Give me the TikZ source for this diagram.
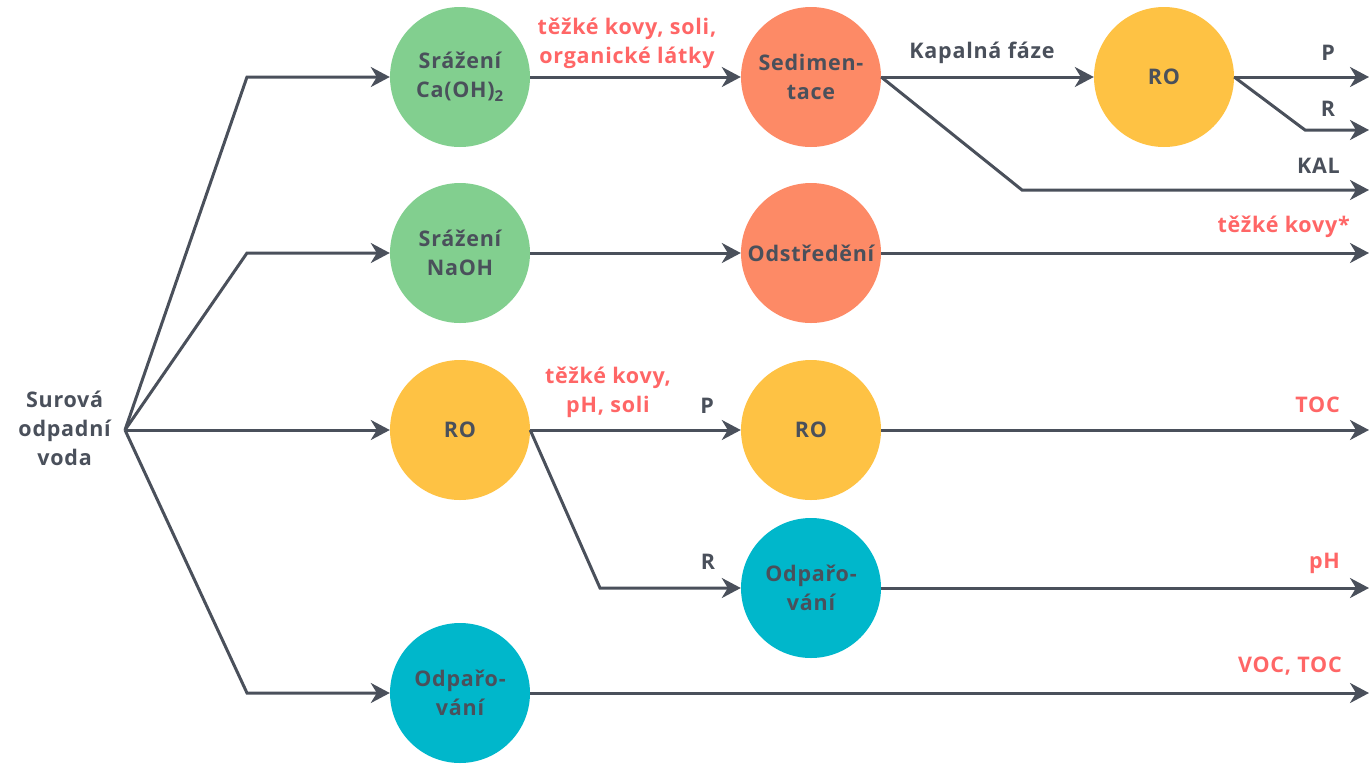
\documentclass[tikz,border=0pt]{standalone}
\usepackage{fontspec}
\setmainfont[LetterSpace=3.5]{Open Sans}
\usetikzlibrary{arrows.meta}
\definecolor{ink}{HTML}{4A505B}
\definecolor{hot}{HTML}{FF6666}
\definecolor{cgreen}{HTML}{82CF8F}
\definecolor{corange}{HTML}{FD8A66}
\definecolor{cyellow}{HTML}{FEC244}
\definecolor{ccyan}{HTML}{00B7CB}
\tikzset{
    every node/.style={font=\fontsize{21.5}{29}\selectfont\bfseries, text=ink, align=center, inner sep=0pt}
}
\tikzset{
    unit/.style={circle, minimum size=140pt},
    flow/.style={draw=ink, line width=3pt, -{Stealth[length=19pt,width=20pt,inset=6pt]}},
    note/.style={text=hot}
}

\begin{document}
\begin{tikzpicture}[x=1pt, y=-1pt]
    \useasboundingbox (0,0) rectangle (1369,764);

    \node (feed) [anchor=east] at (111,428) {Surová\\odpadní\\voda};
    \coordinate (src) at (125,430);

    \node (caoh) [unit, fill=cgreen] at (460,77) {Srážení\\Ca(OH)\textsubscript{2}};
    \node (naoh) [unit, fill=cgreen] at (460,253) {Srážení\\NaOH};
    \node (ro2) [unit, fill=cyellow] at (460,430) {RO};
    \node (evb) [unit, fill=ccyan] at (460,693) {Odpařo-\\vání};

    \node (sed) [unit, fill=corange] at (811,77) {Sedimen-\\tace};
    \node (cen) [unit, fill=corange] at (811,253) {Odstředění};
    \node (ro3) [unit, fill=cyellow] at (811,430) {RO};
    \node (evm) [unit, fill=ccyan] at (811,588) {Odpařo-\\vání};

    \node (ro1) [unit, fill=cyellow] at (1164,77) {RO};

    \coordinate (k1) at (247,77);
    \coordinate (k2) at (247,253);
    \coordinate (k4) at (247,693);
    \coordinate (k5) at (1022,190);
    \coordinate (k6) at (1305,130);
    \coordinate (k7) at (600,588);

    \coordinate (outP) at (1369,77);
    \coordinate (outR) at (1369,130);
    \coordinate (outKAL) at (1369,190);
    \coordinate (outcen) at (1369,253);
    \coordinate (outro) at (1369,430);
    \coordinate (outev) at (1369,588);
    \coordinate (outevb) at (1369,693);

    % inflow
    \draw [flow] (src) -- (k1) -- (caoh);
    \draw [flow] (src) -- (k2) -- (naoh);
    \draw [flow] (src) -- (ro2);
    \draw [flow] (src) -- (k4) -- (evb);

    % middle column
    \draw [flow] (caoh) -- (sed);
    \draw [flow] (naoh) -- (cen);
    \draw [flow] (ro2) -- (ro3);
    \draw [flow] (ro2.east) -- (k7) -- (evm);

    % outflow
    \draw [flow] (sed) -- (ro1);
    \draw [flow] (sed.east) -- (k5) -- (outKAL);
    \draw [flow] (ro1) -- (outP);
    \draw [flow] (ro1.east) -- (k6) -- (outR);
    \draw [flow] (cen) -- (outcen);
    \draw [flow] (ro3) -- (outro);
    \draw [flow] (evm) -- (outev);
    \draw [flow] (evb) -- (outevb);

    % labels
    \node (l1) [note] at (627,43) {těžké kovy, soli,\\organické látky};
    \node (l2) at (982,53) {Kapalná fáze};
    \node (l3) at (1328,53) {P};
    \node (l4) at (1328,109) {R};
    \node (l5) [anchor=east] at (1340,166) {KAL};
    \node (l6) [note, anchor=east] at (1350,227) {těžké kovy*};
    \node (l7) [note] at (608,392) {těžké kovy,\\pH, soli};
    \node (l8) at (707,406) {P};
    \node (l9) at (708,562) {R};
    \node (l10) [note, anchor=east] at (1340,405) {TOC};
    \node (l11) [note, anchor=east] at (1340,563) {pH};
    \node (l12) [note, anchor=east] at (1342,666) {VOC, TOC};
\end{tikzpicture}
\end{document}
